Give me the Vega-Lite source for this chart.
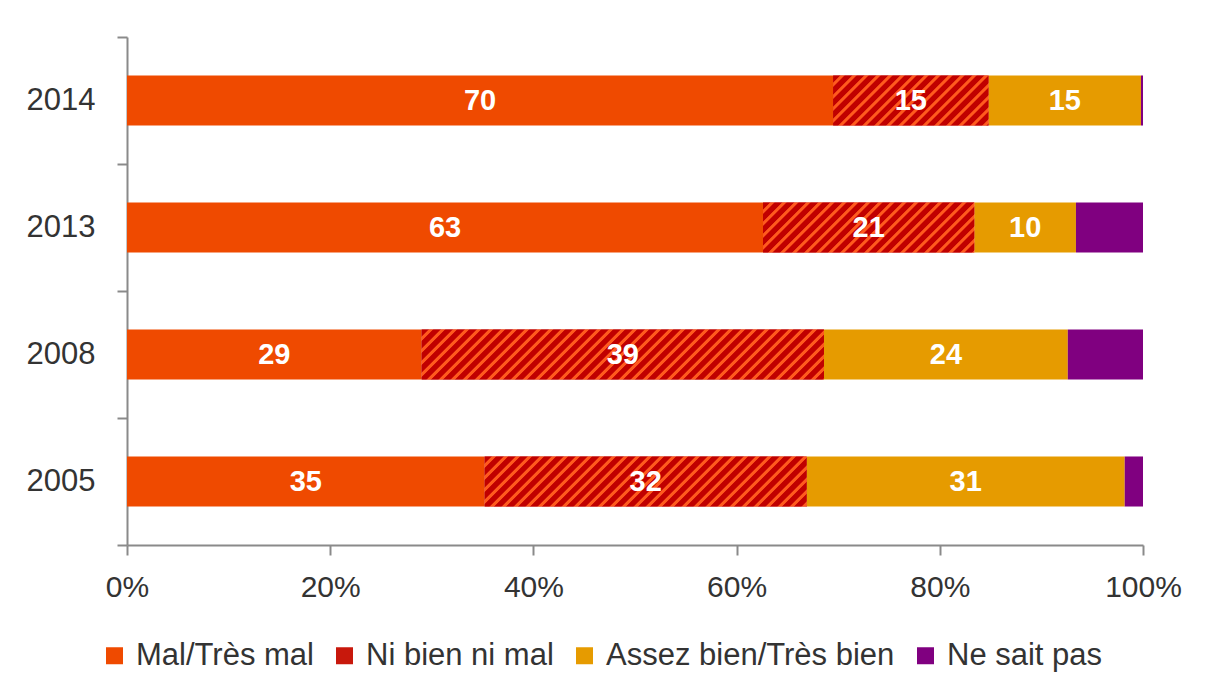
{
 "$schema": "https://vega.github.io/schema/vega-lite/v6.json",
 "width": 1016,
 "height": 508,
 "autosize": {"type": "none"},
 "padding": {"left": 127, "top": 37, "right": 66, "bottom": 142},
 "background": "white",
 "config": {"view": {"stroke": null}, "font": "Liberation Sans"},
 "data": {"values": [
  {"year": "2014", "cat": "Mal/Très mal", "ord": 1, "value": 69.5, "label": "70"},
  {"year": "2014", "cat": "Ni bien ni mal", "ord": 2, "value": 15.3, "label": "15"},
  {"year": "2014", "cat": "Assez bien/Très bien", "ord": 3, "value": 15.0, "label": "15"},
  {"year": "2014", "cat": "Ne sait pas", "ord": 4, "value": 0.2, "label": ""},
  {"year": "2013", "cat": "Mal/Très mal", "ord": 1, "value": 62.6, "label": "63"},
  {"year": "2013", "cat": "Ni bien ni mal", "ord": 2, "value": 20.8, "label": "21"},
  {"year": "2013", "cat": "Assez bien/Très bien", "ord": 3, "value": 10.0, "label": "10"},
  {"year": "2013", "cat": "Ne sait pas", "ord": 4, "value": 6.6, "label": ""},
  {"year": "2008", "cat": "Mal/Très mal", "ord": 1, "value": 29.0, "label": "29"},
  {"year": "2008", "cat": "Ni bien ni mal", "ord": 2, "value": 39.6, "label": "39"},
  {"year": "2008", "cat": "Assez bien/Très bien", "ord": 3, "value": 24.0, "label": "24"},
  {"year": "2008", "cat": "Ne sait pas", "ord": 4, "value": 7.4, "label": ""},
  {"year": "2005", "cat": "Mal/Très mal", "ord": 1, "value": 35.2, "label": "35"},
  {"year": "2005", "cat": "Ni bien ni mal", "ord": 2, "value": 31.7, "label": "32"},
  {"year": "2005", "cat": "Assez bien/Très bien", "ord": 3, "value": 31.3, "label": "31"},
  {"year": "2005", "cat": "Ne sait pas", "ord": 4, "value": 1.8, "label": ""}
 ]},
 "transform": [
  {"stack": "value", "groupby": ["year"], "sort": [{"field": "ord", "order": "ascending"}], "as": ["x0", "x1"]}
 ],
 "encoding": {
  "y": {
   "field": "year", "type": "nominal", "sort": "descending",
   "scale": {"paddingInner": 0, "paddingOuter": 0},
   "axis": {"title": null, "domainColor": "#8a8a8a", "domainWidth": 2, "tickColor": "#8a8a8a", "tickWidth": 2, "tickSize": 10, "tickBand": "extent", "labelFontSize": 31, "labelColor": "#333333", "labelPadding": 22, "labelFont": "Liberation Sans"}
  }
 },
 "layer": [
  {
   "mark": {"type": "bar", "height": {"band": 0.394}},
   "encoding": {
    "x": {"field": "x0", "type": "quantitative", "scale": {"domain": [0, 100]},
     "axis": {"title": null, "values": [0, 20, 40, 60, 80, 100], "labelExpr": "datum.value + '%'", "grid": false, "domainColor": "#8a8a8a", "domainWidth": 2, "tickColor": "#8a8a8a", "tickWidth": 2, "tickSize": 10, "labelFontSize": 30, "labelColor": "#333333", "labelPadding": 17, "labelFlush": false, "labelFont": "Liberation Sans"}},
    "x2": {"field": "x1"},
    "color": {"field": "cat", "type": "nominal",
     "scale": {"domain": ["Mal/Très mal", "Ni bien ni mal", "Assez bien/Très bien", "Ne sait pas"],
      "range": ["#ef4a00", "#c8180c", "#e69b00", "#800080"]},
     "legend": {"title": null, "orient": "none", "legendX": -28, "legendY": 603, "direction": "horizontal", "columns": 4, "symbolType": "square", "symbolSize": 289, "symbolStrokeWidth": 0, "labelFontSize": 31, "labelColor": "#333333", "labelFont": "Liberation Sans", "columnPadding": 15, "labelOffset": 6, "labelLimit": 400, "padding": 0,
      "encode": {"symbols": {"update": {"fill": [{"test": "datum.value === 'Ni bien ni mal'", "value": {"gradient": "linear", "x1": 0, "y1": 0, "x2": 1, "y2": 1, "stops": [{"offset": 0, "color": "#c00000"}, {"offset": 0.3, "color": "#c00000"}, {"offset": 0.4, "color": "#ff5a1e"}, {"offset": 0.52, "color": "#ff5a1e"}, {"offset": 0.62, "color": "#c00000"}, {"offset": 1, "color": "#c00000"}]}}, {"scale": "color", "field": "value"}]}}}}}
   }
  },
  {
   "transform": [{"filter": "datum.year === '2014' && datum.ord === 2"}],
   "mark": {"type": "bar", "height": {"band": 0.394}, "fill": {"gradient": "linear", "x1": 0, "y1": 0, "x2": 2.799, "y2": 0.9007, "stops": [
    {"offset": 0, "color": "#c00000"}, {"offset": 0.0135, "color": "#c00000"}, {"offset": 0.016, "color": "#ff5a1e"}, {"offset": 0.0225, "color": "#ff5a1e"},
    {"offset": 0.025, "color": "#c00000"}, {"offset": 0.0385, "color": "#c00000"}, {"offset": 0.041, "color": "#ff5a1e"}, {"offset": 0.0475, "color": "#ff5a1e"},
    {"offset": 0.05, "color": "#c00000"}, {"offset": 0.0635, "color": "#c00000"}, {"offset": 0.066, "color": "#ff5a1e"}, {"offset": 0.0725, "color": "#ff5a1e"},
    {"offset": 0.075, "color": "#c00000"}, {"offset": 0.0885, "color": "#c00000"}, {"offset": 0.091, "color": "#ff5a1e"}, {"offset": 0.0975, "color": "#ff5a1e"},
    {"offset": 0.1, "color": "#c00000"}, {"offset": 0.1135, "color": "#c00000"}, {"offset": 0.116, "color": "#ff5a1e"}, {"offset": 0.1225, "color": "#ff5a1e"},
    {"offset": 0.125, "color": "#c00000"}, {"offset": 0.1385, "color": "#c00000"}, {"offset": 0.141, "color": "#ff5a1e"}, {"offset": 0.1475, "color": "#ff5a1e"},
    {"offset": 0.15, "color": "#c00000"}, {"offset": 0.1635, "color": "#c00000"}, {"offset": 0.166, "color": "#ff5a1e"}, {"offset": 0.1725, "color": "#ff5a1e"},
    {"offset": 0.175, "color": "#c00000"}, {"offset": 0.1885, "color": "#c00000"}, {"offset": 0.191, "color": "#ff5a1e"}, {"offset": 0.1975, "color": "#ff5a1e"},
    {"offset": 0.2, "color": "#c00000"}, {"offset": 0.2135, "color": "#c00000"}, {"offset": 0.216, "color": "#ff5a1e"}, {"offset": 0.2225, "color": "#ff5a1e"},
    {"offset": 0.225, "color": "#c00000"}, {"offset": 0.2385, "color": "#c00000"}, {"offset": 0.241, "color": "#ff5a1e"}, {"offset": 0.2475, "color": "#ff5a1e"},
    {"offset": 0.25, "color": "#c00000"}, {"offset": 0.2635, "color": "#c00000"}, {"offset": 0.266, "color": "#ff5a1e"}, {"offset": 0.2725, "color": "#ff5a1e"},
    {"offset": 0.275, "color": "#c00000"}, {"offset": 0.2885, "color": "#c00000"}, {"offset": 0.291, "color": "#ff5a1e"}, {"offset": 0.2975, "color": "#ff5a1e"},
    {"offset": 0.3, "color": "#c00000"}, {"offset": 0.3135, "color": "#c00000"}, {"offset": 0.316, "color": "#ff5a1e"}, {"offset": 0.3225, "color": "#ff5a1e"},
    {"offset": 0.325, "color": "#c00000"}, {"offset": 0.3385, "color": "#c00000"}, {"offset": 0.341, "color": "#ff5a1e"}, {"offset": 0.3475, "color": "#ff5a1e"},
    {"offset": 0.35, "color": "#c00000"}, {"offset": 0.3635, "color": "#c00000"}, {"offset": 0.366, "color": "#ff5a1e"}, {"offset": 0.3725, "color": "#ff5a1e"},
    {"offset": 0.375, "color": "#c00000"}, {"offset": 0.3885, "color": "#c00000"}, {"offset": 0.391, "color": "#ff5a1e"}, {"offset": 0.3975, "color": "#ff5a1e"},
    {"offset": 0.4, "color": "#c00000"}, {"offset": 0.4135, "color": "#c00000"}, {"offset": 0.416, "color": "#ff5a1e"}, {"offset": 0.4225, "color": "#ff5a1e"},
    {"offset": 0.425, "color": "#c00000"}, {"offset": 0.4385, "color": "#c00000"}, {"offset": 0.441, "color": "#ff5a1e"}, {"offset": 0.4475, "color": "#ff5a1e"},
    {"offset": 0.45, "color": "#c00000"}
   ]}},
   "encoding": {"x": {"field": "x0", "type": "quantitative"}, "x2": {"field": "x1"}}
  },
  {
   "transform": [{"filter": "datum.year === '2013' && datum.ord === 2"}],
   "mark": {"type": "bar", "height": {"band": 0.394}, "fill": {"gradient": "linear", "x1": 0, "y1": 0, "x2": 2.1515, "y2": 0.5091, "stops": [
    {"offset": 0, "color": "#c00000"}, {"offset": 0.0135, "color": "#c00000"}, {"offset": 0.016, "color": "#ff5a1e"}, {"offset": 0.0225, "color": "#ff5a1e"},
    {"offset": 0.025, "color": "#c00000"}, {"offset": 0.0385, "color": "#c00000"}, {"offset": 0.041, "color": "#ff5a1e"}, {"offset": 0.0475, "color": "#ff5a1e"},
    {"offset": 0.05, "color": "#c00000"}, {"offset": 0.0635, "color": "#c00000"}, {"offset": 0.066, "color": "#ff5a1e"}, {"offset": 0.0725, "color": "#ff5a1e"},
    {"offset": 0.075, "color": "#c00000"}, {"offset": 0.0885, "color": "#c00000"}, {"offset": 0.091, "color": "#ff5a1e"}, {"offset": 0.0975, "color": "#ff5a1e"},
    {"offset": 0.1, "color": "#c00000"}, {"offset": 0.1135, "color": "#c00000"}, {"offset": 0.116, "color": "#ff5a1e"}, {"offset": 0.1225, "color": "#ff5a1e"},
    {"offset": 0.125, "color": "#c00000"}, {"offset": 0.1385, "color": "#c00000"}, {"offset": 0.141, "color": "#ff5a1e"}, {"offset": 0.1475, "color": "#ff5a1e"},
    {"offset": 0.15, "color": "#c00000"}, {"offset": 0.1635, "color": "#c00000"}, {"offset": 0.166, "color": "#ff5a1e"}, {"offset": 0.1725, "color": "#ff5a1e"},
    {"offset": 0.175, "color": "#c00000"}, {"offset": 0.1885, "color": "#c00000"}, {"offset": 0.191, "color": "#ff5a1e"}, {"offset": 0.1975, "color": "#ff5a1e"},
    {"offset": 0.2, "color": "#c00000"}, {"offset": 0.2135, "color": "#c00000"}, {"offset": 0.216, "color": "#ff5a1e"}, {"offset": 0.2225, "color": "#ff5a1e"},
    {"offset": 0.225, "color": "#c00000"}, {"offset": 0.2385, "color": "#c00000"}, {"offset": 0.241, "color": "#ff5a1e"}, {"offset": 0.2475, "color": "#ff5a1e"},
    {"offset": 0.25, "color": "#c00000"}, {"offset": 0.2635, "color": "#c00000"}, {"offset": 0.266, "color": "#ff5a1e"}, {"offset": 0.2725, "color": "#ff5a1e"},
    {"offset": 0.275, "color": "#c00000"}, {"offset": 0.2885, "color": "#c00000"}, {"offset": 0.291, "color": "#ff5a1e"}, {"offset": 0.2975, "color": "#ff5a1e"},
    {"offset": 0.3, "color": "#c00000"}, {"offset": 0.3135, "color": "#c00000"}, {"offset": 0.316, "color": "#ff5a1e"}, {"offset": 0.3225, "color": "#ff5a1e"},
    {"offset": 0.325, "color": "#c00000"}, {"offset": 0.3385, "color": "#c00000"}, {"offset": 0.341, "color": "#ff5a1e"}, {"offset": 0.3475, "color": "#ff5a1e"},
    {"offset": 0.35, "color": "#c00000"}, {"offset": 0.3635, "color": "#c00000"}, {"offset": 0.366, "color": "#ff5a1e"}, {"offset": 0.3725, "color": "#ff5a1e"},
    {"offset": 0.375, "color": "#c00000"}, {"offset": 0.3885, "color": "#c00000"}, {"offset": 0.391, "color": "#ff5a1e"}, {"offset": 0.3975, "color": "#ff5a1e"},
    {"offset": 0.4, "color": "#c00000"}, {"offset": 0.4135, "color": "#c00000"}, {"offset": 0.416, "color": "#ff5a1e"}, {"offset": 0.4225, "color": "#ff5a1e"},
    {"offset": 0.425, "color": "#c00000"}, {"offset": 0.4385, "color": "#c00000"}, {"offset": 0.441, "color": "#ff5a1e"}, {"offset": 0.4475, "color": "#ff5a1e"},
    {"offset": 0.45, "color": "#c00000"}, {"offset": 0.4635, "color": "#c00000"}, {"offset": 0.466, "color": "#ff5a1e"}, {"offset": 0.4725, "color": "#ff5a1e"},
    {"offset": 0.475, "color": "#c00000"}, {"offset": 0.4885, "color": "#c00000"}, {"offset": 0.491, "color": "#ff5a1e"}, {"offset": 0.4975, "color": "#ff5a1e"},
    {"offset": 0.5, "color": "#c00000"}, {"offset": 0.5135, "color": "#c00000"}, {"offset": 0.516, "color": "#ff5a1e"}, {"offset": 0.5225, "color": "#ff5a1e"},
    {"offset": 0.525, "color": "#c00000"}, {"offset": 0.5385, "color": "#c00000"}, {"offset": 0.541, "color": "#ff5a1e"}, {"offset": 0.5475, "color": "#ff5a1e"},
    {"offset": 0.55, "color": "#c00000"}
   ]}},
   "encoding": {"x": {"field": "x0", "type": "quantitative"}, "x2": {"field": "x1"}}
  },
  {
   "transform": [{"filter": "datum.year === '2008' && datum.ord === 2"}],
   "mark": {"type": "bar", "height": {"band": 0.394}, "fill": {"gradient": "linear", "x1": 0, "y1": 0, "x2": 1.175, "y2": 0.1461, "stops": [
    {"offset": 0, "color": "#c00000"}, {"offset": 0.0135, "color": "#c00000"}, {"offset": 0.016, "color": "#ff5a1e"}, {"offset": 0.0225, "color": "#ff5a1e"},
    {"offset": 0.025, "color": "#c00000"}, {"offset": 0.0385, "color": "#c00000"}, {"offset": 0.041, "color": "#ff5a1e"}, {"offset": 0.0475, "color": "#ff5a1e"},
    {"offset": 0.05, "color": "#c00000"}, {"offset": 0.0635, "color": "#c00000"}, {"offset": 0.066, "color": "#ff5a1e"}, {"offset": 0.0725, "color": "#ff5a1e"},
    {"offset": 0.075, "color": "#c00000"}, {"offset": 0.0885, "color": "#c00000"}, {"offset": 0.091, "color": "#ff5a1e"}, {"offset": 0.0975, "color": "#ff5a1e"},
    {"offset": 0.1, "color": "#c00000"}, {"offset": 0.1135, "color": "#c00000"}, {"offset": 0.116, "color": "#ff5a1e"}, {"offset": 0.1225, "color": "#ff5a1e"},
    {"offset": 0.125, "color": "#c00000"}, {"offset": 0.1385, "color": "#c00000"}, {"offset": 0.141, "color": "#ff5a1e"}, {"offset": 0.1475, "color": "#ff5a1e"},
    {"offset": 0.15, "color": "#c00000"}, {"offset": 0.1635, "color": "#c00000"}, {"offset": 0.166, "color": "#ff5a1e"}, {"offset": 0.1725, "color": "#ff5a1e"},
    {"offset": 0.175, "color": "#c00000"}, {"offset": 0.1885, "color": "#c00000"}, {"offset": 0.191, "color": "#ff5a1e"}, {"offset": 0.1975, "color": "#ff5a1e"},
    {"offset": 0.2, "color": "#c00000"}, {"offset": 0.2135, "color": "#c00000"}, {"offset": 0.216, "color": "#ff5a1e"}, {"offset": 0.2225, "color": "#ff5a1e"},
    {"offset": 0.225, "color": "#c00000"}, {"offset": 0.2385, "color": "#c00000"}, {"offset": 0.241, "color": "#ff5a1e"}, {"offset": 0.2475, "color": "#ff5a1e"},
    {"offset": 0.25, "color": "#c00000"}, {"offset": 0.2635, "color": "#c00000"}, {"offset": 0.266, "color": "#ff5a1e"}, {"offset": 0.2725, "color": "#ff5a1e"},
    {"offset": 0.275, "color": "#c00000"}, {"offset": 0.2885, "color": "#c00000"}, {"offset": 0.291, "color": "#ff5a1e"}, {"offset": 0.2975, "color": "#ff5a1e"},
    {"offset": 0.3, "color": "#c00000"}, {"offset": 0.3135, "color": "#c00000"}, {"offset": 0.316, "color": "#ff5a1e"}, {"offset": 0.3225, "color": "#ff5a1e"},
    {"offset": 0.325, "color": "#c00000"}, {"offset": 0.3385, "color": "#c00000"}, {"offset": 0.341, "color": "#ff5a1e"}, {"offset": 0.3475, "color": "#ff5a1e"},
    {"offset": 0.35, "color": "#c00000"}, {"offset": 0.3635, "color": "#c00000"}, {"offset": 0.366, "color": "#ff5a1e"}, {"offset": 0.3725, "color": "#ff5a1e"},
    {"offset": 0.375, "color": "#c00000"}, {"offset": 0.3885, "color": "#c00000"}, {"offset": 0.391, "color": "#ff5a1e"}, {"offset": 0.3975, "color": "#ff5a1e"},
    {"offset": 0.4, "color": "#c00000"}, {"offset": 0.4135, "color": "#c00000"}, {"offset": 0.416, "color": "#ff5a1e"}, {"offset": 0.4225, "color": "#ff5a1e"},
    {"offset": 0.425, "color": "#c00000"}, {"offset": 0.4385, "color": "#c00000"}, {"offset": 0.441, "color": "#ff5a1e"}, {"offset": 0.4475, "color": "#ff5a1e"},
    {"offset": 0.45, "color": "#c00000"}, {"offset": 0.4635, "color": "#c00000"}, {"offset": 0.466, "color": "#ff5a1e"}, {"offset": 0.4725, "color": "#ff5a1e"},
    {"offset": 0.475, "color": "#c00000"}, {"offset": 0.4885, "color": "#c00000"}, {"offset": 0.491, "color": "#ff5a1e"}, {"offset": 0.4975, "color": "#ff5a1e"},
    {"offset": 0.5, "color": "#c00000"}, {"offset": 0.5135, "color": "#c00000"}, {"offset": 0.516, "color": "#ff5a1e"}, {"offset": 0.5225, "color": "#ff5a1e"},
    {"offset": 0.525, "color": "#c00000"}, {"offset": 0.5385, "color": "#c00000"}, {"offset": 0.541, "color": "#ff5a1e"}, {"offset": 0.5475, "color": "#ff5a1e"},
    {"offset": 0.55, "color": "#c00000"}, {"offset": 0.5635, "color": "#c00000"}, {"offset": 0.566, "color": "#ff5a1e"}, {"offset": 0.5725, "color": "#ff5a1e"},
    {"offset": 0.575, "color": "#c00000"}, {"offset": 0.5885, "color": "#c00000"}, {"offset": 0.591, "color": "#ff5a1e"}, {"offset": 0.5975, "color": "#ff5a1e"},
    {"offset": 0.6, "color": "#c00000"}, {"offset": 0.6135, "color": "#c00000"}, {"offset": 0.616, "color": "#ff5a1e"}, {"offset": 0.6225, "color": "#ff5a1e"},
    {"offset": 0.625, "color": "#c00000"}, {"offset": 0.6385, "color": "#c00000"}, {"offset": 0.641, "color": "#ff5a1e"}, {"offset": 0.6475, "color": "#ff5a1e"},
    {"offset": 0.65, "color": "#c00000"}, {"offset": 0.6635, "color": "#c00000"}, {"offset": 0.666, "color": "#ff5a1e"}, {"offset": 0.6725, "color": "#ff5a1e"},
    {"offset": 0.675, "color": "#c00000"}, {"offset": 0.6885, "color": "#c00000"}, {"offset": 0.691, "color": "#ff5a1e"}, {"offset": 0.6975, "color": "#ff5a1e"},
    {"offset": 0.7, "color": "#c00000"}, {"offset": 0.7135, "color": "#c00000"}, {"offset": 0.716, "color": "#ff5a1e"}, {"offset": 0.7225, "color": "#ff5a1e"},
    {"offset": 0.725, "color": "#c00000"}, {"offset": 0.7385, "color": "#c00000"}, {"offset": 0.741, "color": "#ff5a1e"}, {"offset": 0.7475, "color": "#ff5a1e"},
    {"offset": 0.75, "color": "#c00000"}, {"offset": 0.7635, "color": "#c00000"}, {"offset": 0.766, "color": "#ff5a1e"}, {"offset": 0.7725, "color": "#ff5a1e"},
    {"offset": 0.775, "color": "#c00000"}, {"offset": 0.7885, "color": "#c00000"}, {"offset": 0.791, "color": "#ff5a1e"}, {"offset": 0.7975, "color": "#ff5a1e"},
    {"offset": 0.8, "color": "#c00000"}, {"offset": 0.8135, "color": "#c00000"}, {"offset": 0.816, "color": "#ff5a1e"}, {"offset": 0.8225, "color": "#ff5a1e"},
    {"offset": 0.825, "color": "#c00000"}, {"offset": 0.8385, "color": "#c00000"}, {"offset": 0.841, "color": "#ff5a1e"}, {"offset": 0.8475, "color": "#ff5a1e"},
    {"offset": 0.85, "color": "#c00000"}, {"offset": 0.8635, "color": "#c00000"}, {"offset": 0.866, "color": "#ff5a1e"}, {"offset": 0.8725, "color": "#ff5a1e"},
    {"offset": 0.875, "color": "#c00000"}, {"offset": 0.8885, "color": "#c00000"}, {"offset": 0.891, "color": "#ff5a1e"}, {"offset": 0.8975, "color": "#ff5a1e"},
    {"offset": 0.9, "color": "#c00000"}, {"offset": 0.9135, "color": "#c00000"}, {"offset": 0.916, "color": "#ff5a1e"}, {"offset": 0.9225, "color": "#ff5a1e"},
    {"offset": 0.925, "color": "#c00000"}, {"offset": 0.9385, "color": "#c00000"}, {"offset": 0.941, "color": "#ff5a1e"}, {"offset": 0.9475, "color": "#ff5a1e"},
    {"offset": 0.95, "color": "#c00000"}
   ]}},
   "encoding": {"x": {"field": "x0", "type": "quantitative"}, "x2": {"field": "x1"}}
  },
  {
   "transform": [{"filter": "datum.year === '2005' && datum.ord === 2"}],
   "mark": {"type": "bar", "height": {"band": 0.394}, "fill": {"gradient": "linear", "x1": 0, "y1": 0, "x2": 1.455, "y2": 0.2258, "stops": [
    {"offset": 0, "color": "#c00000"}, {"offset": 0.0135, "color": "#c00000"}, {"offset": 0.016, "color": "#ff5a1e"}, {"offset": 0.0225, "color": "#ff5a1e"},
    {"offset": 0.025, "color": "#c00000"}, {"offset": 0.0385, "color": "#c00000"}, {"offset": 0.041, "color": "#ff5a1e"}, {"offset": 0.0475, "color": "#ff5a1e"},
    {"offset": 0.05, "color": "#c00000"}, {"offset": 0.0635, "color": "#c00000"}, {"offset": 0.066, "color": "#ff5a1e"}, {"offset": 0.0725, "color": "#ff5a1e"},
    {"offset": 0.075, "color": "#c00000"}, {"offset": 0.0885, "color": "#c00000"}, {"offset": 0.091, "color": "#ff5a1e"}, {"offset": 0.0975, "color": "#ff5a1e"},
    {"offset": 0.1, "color": "#c00000"}, {"offset": 0.1135, "color": "#c00000"}, {"offset": 0.116, "color": "#ff5a1e"}, {"offset": 0.1225, "color": "#ff5a1e"},
    {"offset": 0.125, "color": "#c00000"}, {"offset": 0.1385, "color": "#c00000"}, {"offset": 0.141, "color": "#ff5a1e"}, {"offset": 0.1475, "color": "#ff5a1e"},
    {"offset": 0.15, "color": "#c00000"}, {"offset": 0.1635, "color": "#c00000"}, {"offset": 0.166, "color": "#ff5a1e"}, {"offset": 0.1725, "color": "#ff5a1e"},
    {"offset": 0.175, "color": "#c00000"}, {"offset": 0.1885, "color": "#c00000"}, {"offset": 0.191, "color": "#ff5a1e"}, {"offset": 0.1975, "color": "#ff5a1e"},
    {"offset": 0.2, "color": "#c00000"}, {"offset": 0.2135, "color": "#c00000"}, {"offset": 0.216, "color": "#ff5a1e"}, {"offset": 0.2225, "color": "#ff5a1e"},
    {"offset": 0.225, "color": "#c00000"}, {"offset": 0.2385, "color": "#c00000"}, {"offset": 0.241, "color": "#ff5a1e"}, {"offset": 0.2475, "color": "#ff5a1e"},
    {"offset": 0.25, "color": "#c00000"}, {"offset": 0.2635, "color": "#c00000"}, {"offset": 0.266, "color": "#ff5a1e"}, {"offset": 0.2725, "color": "#ff5a1e"},
    {"offset": 0.275, "color": "#c00000"}, {"offset": 0.2885, "color": "#c00000"}, {"offset": 0.291, "color": "#ff5a1e"}, {"offset": 0.2975, "color": "#ff5a1e"},
    {"offset": 0.3, "color": "#c00000"}, {"offset": 0.3135, "color": "#c00000"}, {"offset": 0.316, "color": "#ff5a1e"}, {"offset": 0.3225, "color": "#ff5a1e"},
    {"offset": 0.325, "color": "#c00000"}, {"offset": 0.3385, "color": "#c00000"}, {"offset": 0.341, "color": "#ff5a1e"}, {"offset": 0.3475, "color": "#ff5a1e"},
    {"offset": 0.35, "color": "#c00000"}, {"offset": 0.3635, "color": "#c00000"}, {"offset": 0.366, "color": "#ff5a1e"}, {"offset": 0.3725, "color": "#ff5a1e"},
    {"offset": 0.375, "color": "#c00000"}, {"offset": 0.3885, "color": "#c00000"}, {"offset": 0.391, "color": "#ff5a1e"}, {"offset": 0.3975, "color": "#ff5a1e"},
    {"offset": 0.4, "color": "#c00000"}, {"offset": 0.4135, "color": "#c00000"}, {"offset": 0.416, "color": "#ff5a1e"}, {"offset": 0.4225, "color": "#ff5a1e"},
    {"offset": 0.425, "color": "#c00000"}, {"offset": 0.4385, "color": "#c00000"}, {"offset": 0.441, "color": "#ff5a1e"}, {"offset": 0.4475, "color": "#ff5a1e"},
    {"offset": 0.45, "color": "#c00000"}, {"offset": 0.4635, "color": "#c00000"}, {"offset": 0.466, "color": "#ff5a1e"}, {"offset": 0.4725, "color": "#ff5a1e"},
    {"offset": 0.475, "color": "#c00000"}, {"offset": 0.4885, "color": "#c00000"}, {"offset": 0.491, "color": "#ff5a1e"}, {"offset": 0.4975, "color": "#ff5a1e"},
    {"offset": 0.5, "color": "#c00000"}, {"offset": 0.5135, "color": "#c00000"}, {"offset": 0.516, "color": "#ff5a1e"}, {"offset": 0.5225, "color": "#ff5a1e"},
    {"offset": 0.525, "color": "#c00000"}, {"offset": 0.5385, "color": "#c00000"}, {"offset": 0.541, "color": "#ff5a1e"}, {"offset": 0.5475, "color": "#ff5a1e"},
    {"offset": 0.55, "color": "#c00000"}, {"offset": 0.5635, "color": "#c00000"}, {"offset": 0.566, "color": "#ff5a1e"}, {"offset": 0.5725, "color": "#ff5a1e"},
    {"offset": 0.575, "color": "#c00000"}, {"offset": 0.5885, "color": "#c00000"}, {"offset": 0.591, "color": "#ff5a1e"}, {"offset": 0.5975, "color": "#ff5a1e"},
    {"offset": 0.6, "color": "#c00000"}, {"offset": 0.6135, "color": "#c00000"}, {"offset": 0.616, "color": "#ff5a1e"}, {"offset": 0.6225, "color": "#ff5a1e"},
    {"offset": 0.625, "color": "#c00000"}, {"offset": 0.6385, "color": "#c00000"}, {"offset": 0.641, "color": "#ff5a1e"}, {"offset": 0.6475, "color": "#ff5a1e"},
    {"offset": 0.65, "color": "#c00000"}, {"offset": 0.6635, "color": "#c00000"}, {"offset": 0.666, "color": "#ff5a1e"}, {"offset": 0.6725, "color": "#ff5a1e"},
    {"offset": 0.675, "color": "#c00000"}, {"offset": 0.6885, "color": "#c00000"}, {"offset": 0.691, "color": "#ff5a1e"}, {"offset": 0.6975, "color": "#ff5a1e"},
    {"offset": 0.7, "color": "#c00000"}, {"offset": 0.7135, "color": "#c00000"}, {"offset": 0.716, "color": "#ff5a1e"}, {"offset": 0.7225, "color": "#ff5a1e"},
    {"offset": 0.725, "color": "#c00000"}, {"offset": 0.7385, "color": "#c00000"}, {"offset": 0.741, "color": "#ff5a1e"}, {"offset": 0.7475, "color": "#ff5a1e"},
    {"offset": 0.75, "color": "#c00000"}, {"offset": 0.7635, "color": "#c00000"}, {"offset": 0.766, "color": "#ff5a1e"}, {"offset": 0.7725, "color": "#ff5a1e"},
    {"offset": 0.775, "color": "#c00000"}, {"offset": 0.7885, "color": "#c00000"}, {"offset": 0.791, "color": "#ff5a1e"}, {"offset": 0.7975, "color": "#ff5a1e"},
    {"offset": 0.8, "color": "#c00000"}
   ]}},
   "encoding": {"x": {"field": "x0", "type": "quantitative"}, "x2": {"field": "x1"}}
  },
  {
   "mark": {"type": "text", "color": "white", "fontWeight": "bold", "fontSize": 29, "font": "Liberation Sans", "baseline": "middle", "align": "center"},
   "encoding": {
    "x": {"field": "value", "type": "quantitative", "stack": "zero", "bandPosition": 0.5, "axis": {"title": null}},
    "detail": {"field": "cat"},
    "order": {"field": "ord"},
    "text": {"field": "label"}
   }
  }
 ]
}
